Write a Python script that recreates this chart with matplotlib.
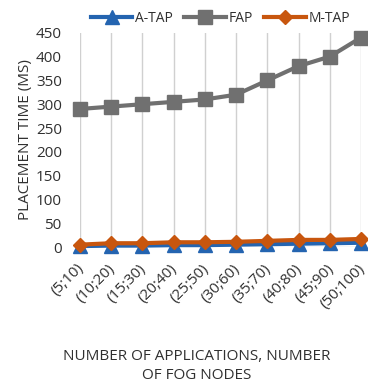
import matplotlib
matplotlib.use("Agg")
import matplotlib.pyplot as plt
import matplotlib.transforms as mtransforms

categories = ["(5;10)", "(10;20)", "(15;30)", "(20;40)", "(25;50)",
              "(30;60)", "(35;70)", "(40;80)", "(45;90)", "(50;100)"]
a_tap = [2, 3, 3, 4, 4, 5, 6, 7, 8, 9]
fap = [290, 295, 300, 305, 310, 320, 350, 380, 400, 440]
m_tap = [5, 8, 8, 10, 10, 11, 13, 15, 15, 17]
yticks = [0, 50, 100, 150, 200, 250, 300, 350, 400, 450]

plt.rcParams['font.family'] = ['Open Sans', 'DejaVu Sans']

fig = plt.figure(figsize=(3.68, 3.86), dpi=100)
ax = fig.add_axes([0.217, 0.36, 0.764, 0.555])

x = list(range(len(categories)))
ax.plot(x, a_tap, color="#2464B0", lw=3, marker="^", ms=10, label="A-TAP", zorder=3, clip_on=False)
ax.plot(x, fap, color="#707070", lw=3, marker="s", ms=10, label="FAP", zorder=3, clip_on=False)
ax.plot(x, m_tap, color="#C8560E", lw=3, marker="D", ms=7, label="M-TAP", zorder=4, clip_on=False)

ax.set_xlim(0, 9)
ax.set_ylim(0, 450)
ax.set_yticks(yticks)
ax.set_xticks(x)
ax.set_xticklabels(categories, rotation=45, ha="right", rotation_mode="anchor")
ax.tick_params(axis="both", length=0, labelsize=11, colors="#303030")
ax.tick_params(axis="x", pad=10)
ax.tick_params(axis="y", pad=13)
offset = mtransforms.ScaledTranslation(-4 / 100, 0, fig.dpi_scale_trans)
for lbl in ax.get_xticklabels():
    lbl.set_transform(lbl.get_transform() + offset)
for s in ax.spines.values():
    s.set_visible(False)
ax.grid(axis="x", color="#D0D0D0", lw=1)
ax.axhline(0, color="#D0D0D0", lw=1, zorder=1)
ax.set_axisbelow(True)

ax.set_ylabel("PLACEMENT TIME (MS)", fontsize=11, color="#303030", labelpad=2)
fig.text(0.535, 0.052, "NUMBER OF APPLICATIONS, NUMBER\nOF FOG NODES", ha="center",
         va="center", fontsize=11, color="#303030", linespacing=1.4)

leg = ax.legend(loc="lower center", bbox_to_anchor=(0.5, 1.0), ncol=3, frameon=False,
                fontsize=10, handlelength=3.0, columnspacing=0.8, handletextpad=0.2,
                borderaxespad=0.1)
for t in leg.get_texts():
    t.set_color("#303030")

fig.savefig("out.png", dpi=100)
